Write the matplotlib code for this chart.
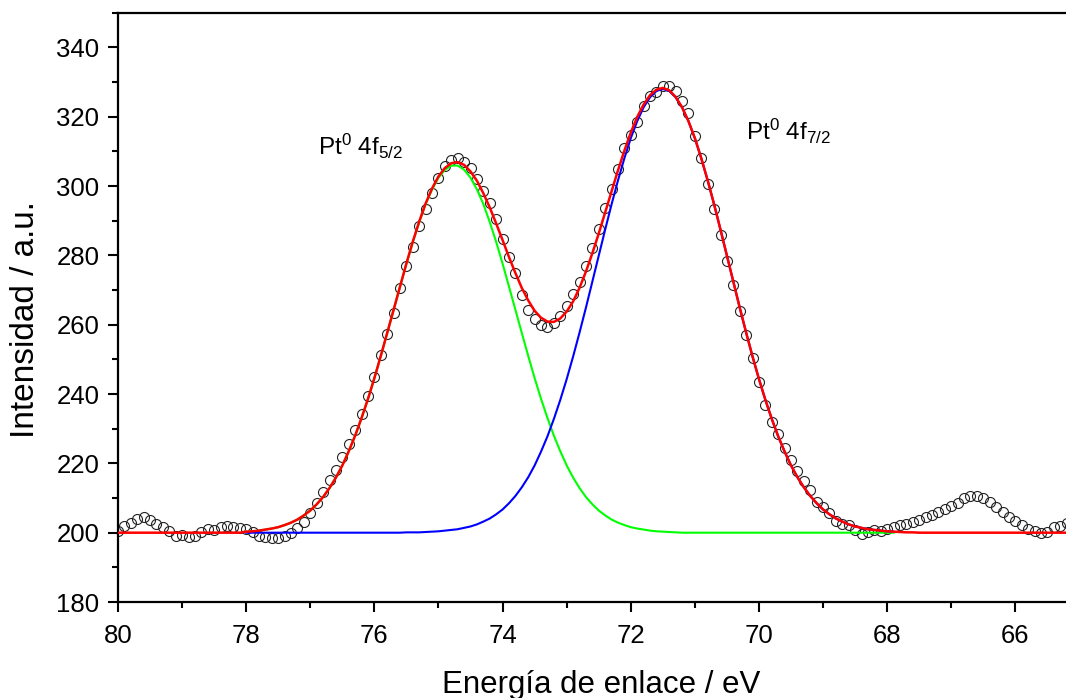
import numpy as np
import matplotlib
matplotlib.use("Agg")
import matplotlib.pyplot as plt
from matplotlib.ticker import MultipleLocator

plt.rcParams['font.family'] = ['Liberation Sans', 'DejaVu Sans']
plt.rcParams['mathtext.default'] = 'regular'

# energia de enlace (eV), paso de 0.1 eV
energia = np.round(np.arange(80.0, 65.15, -0.1), 1)
energia_comp = np.round(np.arange(78.0, 67.85, -0.1), 1)

# datos experimentales (circulos)
intensidad = [
    200.5, 201.8, 202.8, 204.0, 204.6, 203.8, 202.5, 201.6, 200.4, 199.0,  # 80.0
    199.2, 198.8, 199.0, 200.3, 201.0, 200.9, 201.7, 202.0, 201.7, 201.4,  # 79.0
    201.2, 200.2, 199.1, 198.7, 198.6, 198.5, 199.0, 199.9, 201.3, 203.0,  # 78.0
    205.6, 208.5, 211.8, 215.2, 218.1, 221.7, 225.6, 229.6, 234.2, 239.4,  # 77.0
    244.8, 251.2, 257.3, 263.3, 270.5, 277.0, 282.3, 288.5, 293.4, 297.9,  # 76.0
    302.2, 305.8, 307.6, 308.0, 307.0, 305.2, 302.0, 298.6, 295.0, 290.4,  # 75.0
    284.6, 279.6, 274.8, 268.5, 264.3, 261.6, 260.0, 259.4, 260.5, 262.5,  # 74.0
    265.4, 268.8, 272.4, 277.0, 282.0, 287.5, 293.6, 299.2, 305.0, 311.0,  # 73.0
    314.8, 318.6, 323.2, 326.0, 327.0, 328.8, 329.0, 327.4, 324.6, 321.0,  # 72.0
    314.5, 308.0, 300.5, 293.5, 286.0, 278.5, 271.5, 264.0, 257.0, 250.4,  # 71.0
    243.5, 236.8, 232.0, 228.6, 224.4, 220.9, 217.9, 214.9, 212.3, 208.8,  # 70.0
    207.3, 205.8, 203.5, 202.5, 202.3, 200.9, 199.7, 200.3, 200.9, 200.4,  # 69.0
    201.0, 201.7, 202.2, 202.6, 203.1, 203.7, 204.4, 205.1, 205.9, 206.7,  # 68.0
    207.8, 208.7, 209.9, 210.7, 210.6, 209.9, 208.9, 207.3, 205.9, 204.6,  # 67.0
    203.3, 202.2, 201.1, 200.4, 199.8, 200.2, 201.6, 202.0, 202.8,         # 66.0
]

# ajuste total (rojo)
ajuste = [
    200.0, 200.0, 200.0, 200.0, 200.0, 200.0, 200.0, 200.0, 200.0, 200.0,
    200.0, 200.0, 200.0, 200.0, 200.0, 200.0, 200.0, 200.0, 200.0, 200.0,
    200.3, 200.4, 200.6, 200.9, 201.2, 201.6, 202.2, 202.9, 203.8, 205.0,
    206.4, 208.2, 210.3, 212.9, 215.9, 219.4, 223.5, 228.0, 233.1, 238.6,
    244.6, 251.0, 257.6, 264.3, 271.0, 277.7, 284.0, 289.8, 295.0, 299.3,
    302.8, 305.2, 306.6, 306.9, 306.1, 304.2, 301.5, 297.9, 293.8, 289.2,
    284.4, 279.5, 274.9, 270.6, 267.0, 264.0, 262.0, 260.9, 260.8, 261.8,
    263.8, 266.7, 270.6, 275.3, 280.6, 286.3, 292.4, 298.5, 304.5, 310.2,
    315.4, 319.9, 323.5, 326.2, 327.8, 328.3, 327.6, 325.7, 322.7, 318.7,
    313.8, 308.0, 301.6, 294.7, 287.4, 279.9, 272.4, 264.9, 257.7, 250.8,
    244.3, 238.3, 232.8, 227.8, 223.4, 219.4, 216.0, 213.1, 210.6, 208.5,
    206.7, 205.3, 204.1, 203.2, 202.4, 201.8, 201.4, 201.0, 200.8, 200.6,
    200.4, 200.3, 200.2, 200.1, 200.1, 200.0, 200.0, 200.0, 200.0, 200.0,
    200.0, 200.0, 200.0, 200.0, 200.0, 200.0, 200.0, 200.0, 200.0, 200.0,
    200.0, 200.0, 200.0, 200.0, 200.0, 200.0, 200.0, 200.0, 200.0,
]

# componente Pt0 4f5/2 (verde)
pico_52 = [
    200.3, 200.4, 200.6, 200.9, 201.2, 201.6, 202.2, 202.9, 203.8, 205.0,
    206.4, 208.2, 210.3, 212.9, 215.9, 219.4, 223.5, 228.0, 233.1, 238.6,
    244.6, 251.0, 257.6, 264.3, 271.0, 277.6, 283.9, 289.6, 294.8, 299.0,
    302.4, 304.7, 305.9, 305.9, 304.7, 302.4, 299.0, 294.8, 289.6, 283.9,
    277.6, 271.0, 264.3, 257.6, 251.0, 244.6, 238.6, 233.1, 228.0, 223.5,
    219.4, 215.9, 212.9, 210.3, 208.2, 206.4, 205.0, 203.8, 202.9, 202.2,
    201.6, 201.2, 200.9, 200.6, 200.4, 200.3, 200.2, 200.1, 200.0, 200.0,
    200.0, 200.0, 200.0, 200.0, 200.0, 200.0, 200.0, 200.0, 200.0, 200.0,
    200.0, 200.0, 200.0, 200.0, 200.0, 200.0, 200.0, 200.0, 200.0, 200.0,
    200.0, 200.0, 200.0, 200.0, 200.0, 200.0, 200.0, 200.0, 200.0, 200.0,
    200.0, 200.0,
]

# componente Pt0 4f7/2 (azul)
pico_72 = [
    200.0, 200.0, 200.0, 200.0, 200.0, 200.0, 200.0, 200.0, 200.0, 200.0,
    200.0, 200.0, 200.0, 200.0, 200.0, 200.0, 200.0, 200.0, 200.0, 200.0,
    200.0, 200.0, 200.0, 200.0, 200.0, 200.1, 200.1, 200.1, 200.2, 200.3,
    200.4, 200.6, 200.8, 201.0, 201.4, 201.8, 202.4, 203.2, 204.1, 205.3,
    206.7, 208.5, 210.6, 213.1, 216.0, 219.4, 223.4, 227.8, 232.8, 238.3,
    244.3, 250.8, 257.7, 264.9, 272.4, 279.9, 287.4, 294.7, 301.6, 308.0,
    313.8, 318.7, 322.7, 325.6, 327.4, 328.0, 327.4, 325.6, 322.7, 318.7,
    313.8, 308.0, 301.6, 294.7, 287.4, 279.9, 272.4, 264.9, 257.7, 250.8,
    244.3, 238.3, 232.8, 227.8, 223.4, 219.4, 216.0, 213.1, 210.6, 208.5,
    206.7, 205.3, 204.1, 203.2, 202.4, 201.8, 201.4, 201.0, 200.8, 200.6,
    200.4, 200.3,
]

fig = plt.figure(figsize=(10.66, 6.98), dpi=100)
ax = fig.add_axes([0.1107, 0.1375, 0.8893, 0.8443])

ax.plot(energia, intensidad, 'o', mfc='none', mec='#222222', ms=7.2, mew=0.8, zorder=2)
ax.plot(energia_comp, pico_52, '-', color='#00ff00', lw=1.5, zorder=3)
ax.plot(energia_comp, pico_72, '-', color='#0000ff', lw=1.5, zorder=4)
ax.plot(energia, ajuste, '-', color='#ff0000', lw=1.8, zorder=5)

ax.text(76.88, 308.9, r'Pt$^0$ 4f$_{5/2}$', fontsize=17.5, va='baseline', ha='left')
ax.text(70.2, 313.3, r'Pt$^0$ 4f$_{7/2}$', fontsize=17.5, va='baseline', ha='left')

ax.set_xlim(80, 65.21)
ax.set_ylim(180, 350)
ax.xaxis.set_major_locator(MultipleLocator(2))
ax.xaxis.set_minor_locator(MultipleLocator(1))
ax.yaxis.set_minor_locator(MultipleLocator(10))
ax.set_yticks(np.arange(180, 341, 20))

ax.tick_params(which='major', direction='out', length=7.5, width=1.5, labelsize=18.5)
ax.tick_params(axis='x', which='major', pad=8)
ax.tick_params(axis='y', which='major', pad=6)
ax.tick_params(which='minor', direction='out', length=4, width=1.5)
for s in ['left', 'bottom', 'top']:
    ax.spines[s].set_linewidth(1.6)
ax.spines['right'].set_visible(False)

ax.set_xlabel('Energía de enlace / eV', fontsize=22.5)
ax.xaxis.set_label_coords(0.5095, -0.115)
ax.set_ylabel('Intensidad / a.u.', fontsize=24)
ax.yaxis.set_label_coords(-0.081, 0.48)

fig.savefig('out.png', dpi=100)
